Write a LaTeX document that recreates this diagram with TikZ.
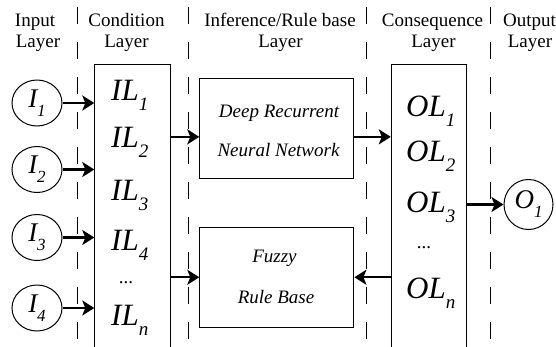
\documentclass[tikz,border=0pt]{standalone}
\usepackage{fontspec}
\setmainfont{Liberation Serif}
\usetikzlibrary{arrows.meta,shapes.geometric}
\newcommand\sbx[3]{\raisebox{-#1}{\fontsize{#2}{#2}\selectfont #3}}
\begin{document}
\begin{tikzpicture}[x=1pt,y=-1pt,
  hdr/.style={font=\fontsize{19}{21}\selectfont, inner sep=0pt, anchor=base},
  boxtxt/.style={font=\fontsize{19}{21}\selectfont\itshape, inner sep=0pt, anchor=base},
  big/.style={font=\fontsize{31}{31}\selectfont\itshape, inner sep=0pt, anchor=base west},
  dotsty/.style={font=\fontsize{19}{19}\selectfont, inner sep=0pt, anchor=base},
  col/.style={draw, line width=1.1pt, minimum width=75.5pt, minimum height=292pt, anchor=north west, inner sep=0pt},
  blk/.style={draw, line width=1.1pt, minimum width=154pt, minimum height=100pt, anchor=north west, inner sep=0pt},
  inp/.style={draw, ellipse, line width=1pt, minimum width=50pt, minimum height=46pt, inner sep=0pt, font=\fontsize{27}{27}\selectfont\itshape},
  dsh/.style={line width=1.1pt, dash pattern=on 17pt off 18pt},
  arr/.style={line width=2.4pt, -{Stealth[length=12pt,width=15pt,inset=3pt]}}
]
\useasboundingbox (0,0) rectangle (556,346);

% headers
\node[hdr] (h1a) at (35,26.5) {Input};
\node[hdr] (h1b) at (38,47) {Layer};
\node[hdr] (h2a) at (126.5,26.5) {Condition};
\node[hdr] (h2b) at (126.5,47) {Layer};
\node[hdr] (h3a) at (280,26.5) {Inference/Rule base};
\node[hdr] (h3b) at (280.5,47) {Layer};
\node[hdr] (h4a) at (432.5,26.5) {Consequence};
\node[hdr] (h4b) at (433.5,47) {Layer};
\node[hdr] (h5a) at (529.5,26.5) {Output};
\node[hdr] (h5b) at (530,47) {Layer};

% dashed separators
\draw[dsh] (77.3,7) -- (77.3,350);
\draw[dsh] (188.3,7) -- (188.3,350);
\draw[dsh] (366.3,7) -- (366.3,350);
\draw[dsh] (490.3,7) -- (490.3,350);

% columns and blocks
\node[col] (cond) at (94.3,64) {};
\node[col] (cons) at (390.8,63.5) {};
\node[blk] (dr) at (199.3,78.3) {};
\node[blk] (fz) at (199.3,226.7) {};

\node[boxtxt] (dr1) at (279,117) {Deep Recurrent};
\node[boxtxt] (dr2) at (278.5,156) {Neural Network};
\node[boxtxt] (fz1) at (274.5,262) {Fuzzy};
\node[boxtxt] (fz2) at (276,303) {Rule Base};

% condition layer labels
\node[big] (il1) at (111,100) {IL\sbx{10pt}{19}{1}};
\node[big] (il2) at (111,147) {IL\sbx{10pt}{19}{2}};
\node[big] (il3) at (111,200) {IL\sbx{10pt}{19}{3}};
\node[big] (il4) at (111,250) {IL\sbx{10pt}{19}{4}};
\node[dotsty] (ild) at (126,283) {...};
\node[big] (iln) at (111,325) {IL\sbx{10pt}{19}{n}};

% consequence layer labels
\node[big] (ol1) at (406,116) {OL\sbx{10pt}{19}{1}};
\node[big] (ol2) at (406,161) {OL\sbx{10pt}{19}{2}};
\node[big] (ol3) at (406,212) {OL\sbx{10pt}{19}{3}};
\node[dotsty] (old) at (424,248) {...};
\node[big] (oln) at (406,298) {OL\sbx{10pt}{19}{n}};

% inputs and output
\node[inp] (i1) at (37,103) {I\sbx{9pt}{17}{1}};
\node[inp] (i2) at (37,169.5) {I\sbx{9pt}{17}{2}};
\node[inp] (i3) at (37,237.5) {I\sbx{9pt}{17}{3}};
\node[inp] (i4) at (37,308) {I\sbx{9pt}{17}{4}};
\node[inp, minimum width=49pt, minimum height=50pt] (o1) at (528.5,204.5) {O\sbx{9pt}{17}{1}};

% connectors
\coordinate (a1) at ([yshift=-8pt]dr.west);
\coordinate (a2) at ([yshift=-8pt]dr.east);
\draw[arr] (i1.east) -- (i1.east -| cond.west);
\draw[arr] (i2.east) -- (i2.east -| cond.west);
\draw[arr] (i3.east) -- (i3.east -| cond.west);
\draw[arr] (i4.east) -- (i4.east -| cond.west);
\draw[arr] (cond.east |- a1) -- (a1);
\draw[arr] (cond.east |- fz.west) -- (fz.west);
\draw[arr] (a2) -- (a2 -| cons.west);
\draw[arr] (cons.west |- fz.east) -- (fz.east);
\draw[arr] (cons.east |- o1.west) -- (o1.west);
\end{tikzpicture}
\end{document}
